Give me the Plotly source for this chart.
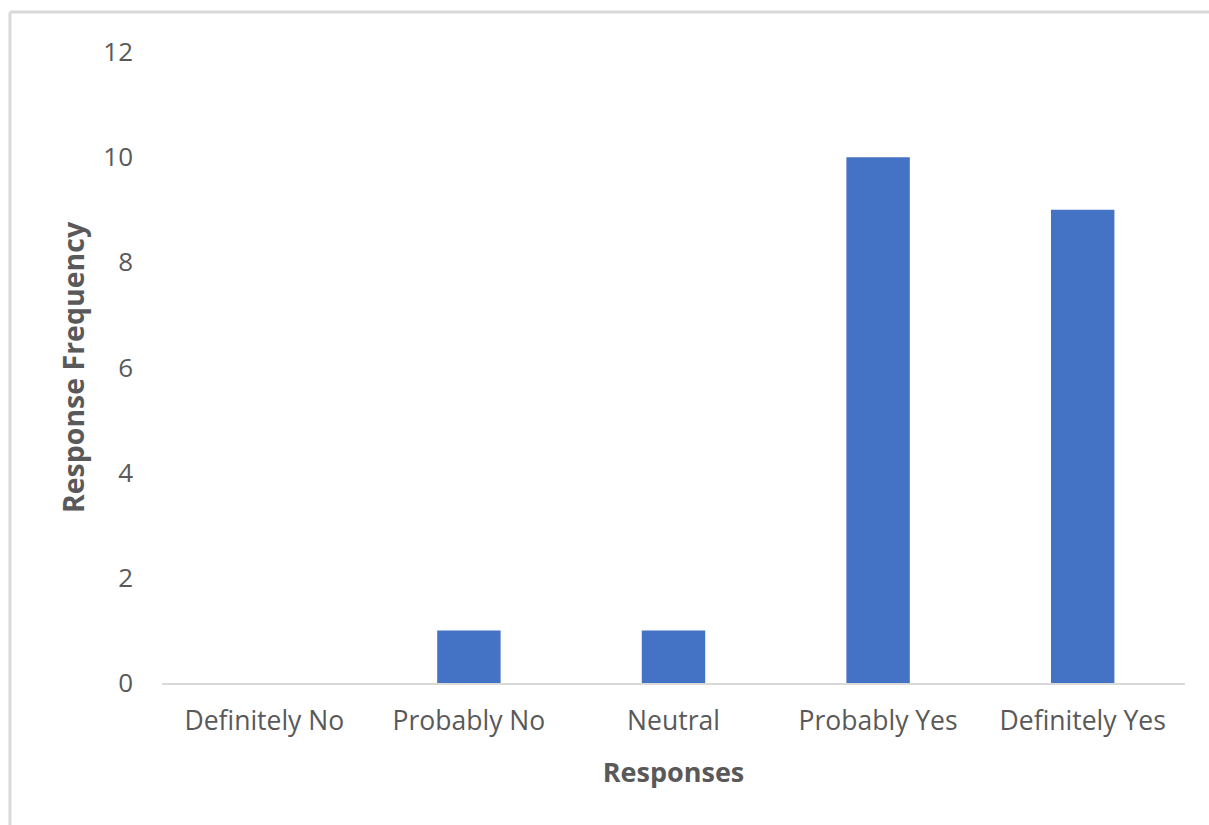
import plotly.graph_objects as go

# Survey responses and their counts
categories = ["Definitely No", "Probably No", "Neutral", "Probably Yes", "Definitely Yes"]
frequencies = [0, 1, 1, 10, 9]
y_ticks = [0, 2, 4, 6, 8, 10, 12]

BAR_COLOR = "#4472C4"
TEXT_COLOR = "#595959"
LINE_COLOR = "#D9D9D9"
FONT = "Open Sans, Liberation Sans, sans-serif"

fig = go.Figure(
    go.Bar(
        x=categories,
        y=frequencies,
        marker=dict(color=BAR_COLOR, line=dict(width=0)),
        hoverinfo="x+y",
    )
)

fig.update_layout(
    width=1209,
    height=825,
    margin=dict(l=162, r=24, t=52, b=142),
    paper_bgcolor="white",
    plot_bgcolor="white",
    bargap=0.69,
    showlegend=False,
    font=dict(family=FONT, color=TEXT_COLOR, size=26),
    xaxis=dict(
        showgrid=False,
        showline=True,
        linecolor=LINE_COLOR,
        linewidth=2,
        ticks="",
        ticklabelstandoff=13,
        tickfont=dict(size=26.5, color=TEXT_COLOR),
        title=dict(
            text="<b>Responses</b>",
            font=dict(size=27, color=TEXT_COLOR),
            standoff=26,
        ),
    ),
    yaxis=dict(
        range=[0, 12],
        tickvals=y_ticks,
        showgrid=False,
        zeroline=False,
        showline=False,
        ticks="",
        ticklabelstandoff=28,
        tickfont=dict(size=26, color=TEXT_COLOR),
        title=dict(
            text="<b>Response Frequency</b>",
            font=dict(size=28.5, color=TEXT_COLOR),
            standoff=10,
        ),
    ),
    shapes=[
        # chart-area frame (top and left edges)
        dict(type="line", xref="paper", yref="paper",
             x0=-0.1486, x1=1.03, y0=1.0634, y1=1.0634,
             line=dict(color=LINE_COLOR, width=3)),
        dict(type="line", xref="paper", yref="paper",
             x0=-0.1486, x1=-0.1486, y0=1.0634, y1=-0.23,
             line=dict(color=LINE_COLOR, width=3)),
    ],
)

fig.write_html("out.html")
